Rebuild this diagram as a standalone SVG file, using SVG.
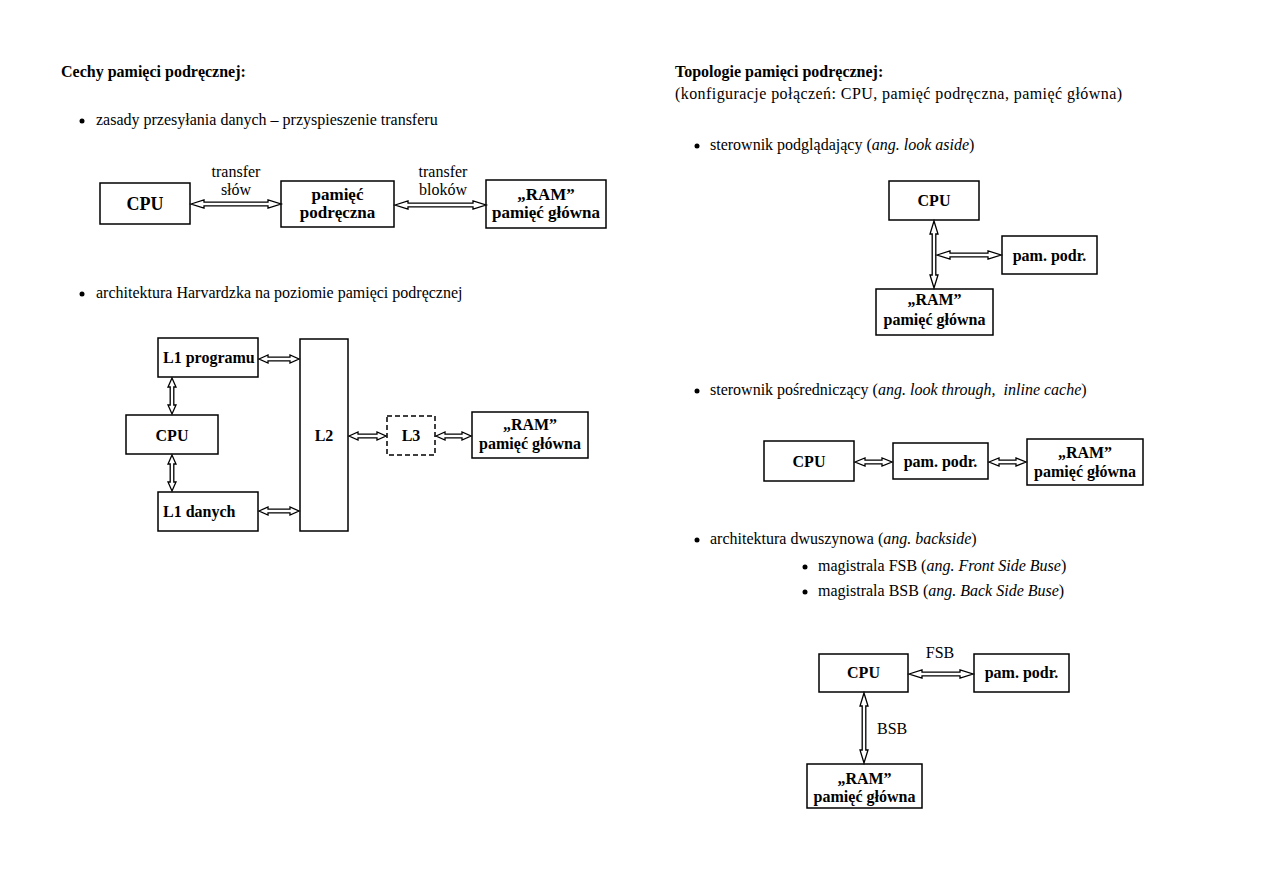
<svg xmlns="http://www.w3.org/2000/svg" width="1263" height="893" viewBox="0 0 1263 893">
<style>
text{font-family:"Liberation Serif","Times New Roman",serif;font-size:16px;fill:#000}
.b{font-weight:bold}
.m{text-anchor:middle}
.i{font-style:italic}
.box{fill:#fff;stroke:#000;stroke-width:1.5}
.dash{fill:#fff;stroke:#000;stroke-width:1.5;stroke-dasharray:5 3}
.arr{fill:#fff;stroke:#000;stroke-width:1.3;stroke-linejoin:miter}
</style>
<rect width="1263" height="893" fill="#fff"/>

<g id="left-text">
<text class="b" x="61" y="77">Cechy pamięci podręcznej:</text>
<circle cx="82" cy="121" r="2.5"/>
<text x="96" y="125">zasady przesyłania danych – przyspieszenie transferu</text>
<circle cx="82" cy="294" r="2.5"/>
<text x="96" y="298">architektura Harvardzka na poziomie pamięci podręcznej</text>
</g>

<g id="right-text">
<text class="b" x="675" y="77">Topologie pamięci podręcznej:</text>
<text x="675" y="99" textLength="447" lengthAdjust="spacing">(konfiguracje połączeń: CPU, pamięć podręczna, pamięć główna)</text>
<circle cx="697" cy="146" r="2.5"/>
<text x="710" y="150">sterownik podglądający (<tspan class="i">ang. look aside</tspan>)</text>
<circle cx="697" cy="391" r="2.5"/>
<text x="710" y="395" xml:space="preserve">sterownik pośredniczący (<tspan class="i">ang. look through,  inline cache</tspan>)</text>
<circle cx="697" cy="540" r="2.5"/>
<text x="710" y="544">architektura dwuszynowa (<tspan class="i">ang. backside</tspan>)</text>
<circle cx="805" cy="567" r="2.5"/>
<text x="818" y="571">magistrala FSB (<tspan class="i">ang. Front Side Buse</tspan>)</text>
<circle cx="805" cy="592" r="2.5"/>
<text x="818" y="596">magistrala BSB (<tspan class="i">ang. Back Side Buse</tspan>)</text>
</g>

<!-- diagram 1 -->
<g id="d1-cpu"><rect class="box" x="100" y="183" width="90" height="41"/><text class="b m" x="145" y="210" style="font-size:18px">CPU</text></g>
<g id="d1-cache"><rect class="box" x="281" y="181" width="113" height="46"/><text class="b m" x="337.5" y="200" style="font-size:17px">pamięć</text><text class="b m" x="337.5" y="218" style="font-size:17px">podręczna</text></g>
<g id="d1-ram"><rect class="box" x="486" y="180" width="120" height="48"/><text class="b m" x="546" y="200" style="font-size:17px">„RAM”</text><text class="b m" x="546" y="218" style="font-size:17px">pamięć główna</text></g>

<!-- Harvard -->
<g id="h-l1p"><rect class="box" x="158" y="338" width="100" height="39"/><text class="b" x="163" y="363">L1 programu</text></g>
<g id="h-cpu"><rect class="box" x="126" y="415" width="92" height="39"/><text class="b m" x="172" y="441">CPU</text></g>
<g id="h-l1d"><rect class="box" x="158" y="492" width="100" height="39"/><text class="b" x="163" y="517">L1 danych</text></g>
<g id="h-l2"><rect class="box" x="300" y="339" width="48" height="192"/><text class="b m" x="324" y="441">L2</text></g>
<g id="h-l3"><rect class="dash" x="387" y="416" width="48" height="39"/><text class="b m" x="411" y="441">L3</text></g>
<g id="h-ram"><rect class="box" x="472" y="412" width="116" height="46"/><text class="b m" x="530" y="430">„RAM”</text><text class="b m" x="530" y="449">pamięć główna</text></g>

<!-- look aside -->
<g id="la-cpu"><rect class="box" x="889" y="181" width="90" height="39"/><text class="b m" x="934" y="206">CPU</text></g>
<g id="la-cache"><rect class="box" x="1002" y="236" width="95" height="38"/><text class="b m" x="1049.5" y="261">pam. podr.</text></g>
<g id="la-ram"><rect class="box" x="876" y="289" width="117" height="46"/><text class="b m" x="934.5" y="305">„RAM”</text><text class="b m" x="934.5" y="325">pamięć główna</text></g>

<!-- look through -->
<g id="lt-cpu"><rect class="box" x="764" y="441" width="90" height="40"/><text class="b m" x="809" y="467">CPU</text></g>
<g id="lt-cache"><rect class="box" x="893" y="443" width="95" height="36"/><text class="b m" x="940.5" y="467">pam. podr.</text></g>
<g id="lt-ram"><rect class="box" x="1027" y="439" width="116" height="46"/><text class="b m" x="1085" y="458">„RAM”</text><text class="b m" x="1085" y="477">pamięć główna</text></g>

<!-- backside -->
<g id="bs-cpu"><rect class="box" x="819" y="654" width="89" height="38"/><text class="b m" x="863.5" y="678">CPU</text></g>
<g id="bs-cache"><rect class="box" x="974" y="654" width="95" height="38"/><text class="b m" x="1021.5" y="678">pam. podr.</text></g>
<g id="bs-ram"><rect class="box" x="807" y="764" width="115" height="44"/><text class="b m" x="864.5" y="784">„RAM”</text><text class="b m" x="864.5" y="802">pamięć główna</text></g>

<g id="connectors">
<path class="arr" d="M191 204 L204 200 L204 202.2 L268 202.2 L268 200 L281 204 L268 208 L268 205.8 L204 205.8 L204 208 Z"/>
<path class="arr" d="M395 205 L408 201 L408 203.2 L473 203.2 L473 201 L486 205 L473 209 L473 206.8 L408 206.8 L408 209 Z"/>
<path class="arr" d="M259 359 L268 355 L268 357.2 L290 357.2 L290 355 L299 359 L290 363 L290 360.8 L268 360.8 L268 363 Z"/>
<path class="arr" d="M259 511 L268 507 L268 509.2 L290 509.2 L290 507 L299 511 L290 515 L290 512.8 L268 512.8 L268 515 Z"/>
<path class="arr" d="M349 436 L358 432 L358 434.2 L377 434.2 L377 432 L386 436 L377 440 L377 437.8 L358 437.8 L358 440 Z"/>
<path class="arr" d="M436 436 L445 432 L445 434.2 L462 434.2 L462 432 L471 436 L462 440 L462 437.8 L445 437.8 L445 440 Z"/>
<path class="arr" d="M172 378 L168 387 L170.2 387 L170.2 405 L168 405 L172 414 L176 405 L173.8 405 L173.8 387 L176 387 Z"/>
<path class="arr" d="M172 455 L168 464 L170.2 464 L170.2 482 L168 482 L172 491 L176 482 L173.8 482 L173.8 464 L176 464 Z"/>
<path class="arr" d="M934 221 L930 234 L932.2 234 L932.2 275 L930 275 L934 288 L938 275 L935.8 275 L935.8 234 L938 234 Z"/>
<path class="arr" d="M937 255 L950 251 L950 253.2 L988 253.2 L988 251 L1001 255 L988 259 L988 256.8 L950 256.8 L950 259 Z"/>
<path class="arr" d="M855 462 L865 458 L865 460.2 L882 460.2 L882 458 L892 462 L882 466 L882 463.8 L865 463.8 L865 466 Z"/>
<path class="arr" d="M989 462 L999 458 L999 460.2 L1016 460.2 L1016 458 L1026 462 L1016 466 L1016 463.8 L999 463.8 L999 466 Z"/>
<path class="arr" d="M909 674 L922 670 L922 672.2 L960 672.2 L960 670 L973 674 L960 678 L960 675.8 L922 675.8 L922 678 Z"/>
<path class="arr" d="M864 693 L860 706 L862.2 706 L862.2 750 L860 750 L864 763 L868 750 L865.8 750 L865.8 706 L868 706 Z"/>
<text class="m" x="236" y="177">transfer</text>
<text class="m" x="236" y="195">słów</text>
<text class="m" x="443" y="177">transfer</text>
<text class="m" x="443" y="195">bloków</text>
<text class="m" x="940" y="658">FSB</text>
<text x="877" y="734">BSB</text>
</g>
</svg>
